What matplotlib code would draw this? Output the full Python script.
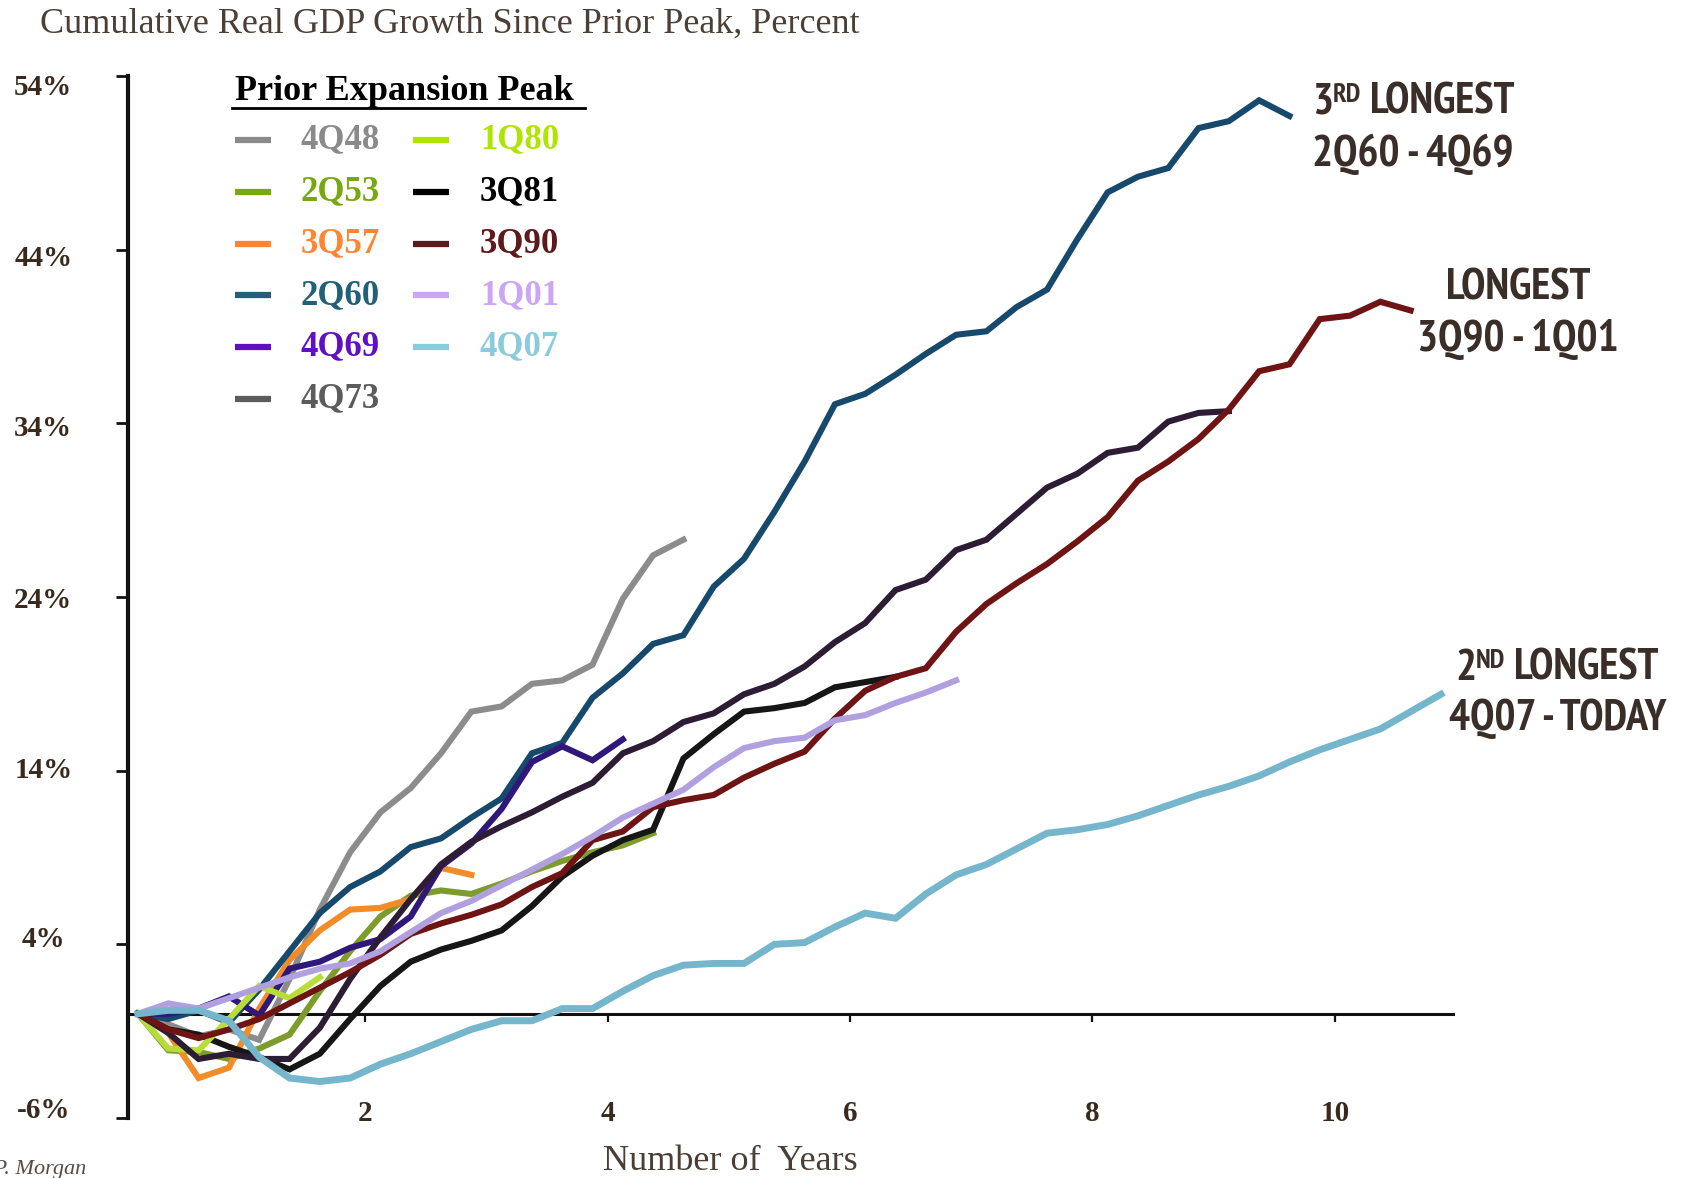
import matplotlib
matplotlib.use('agg')

import os
import numpy as np
import matplotlib.pyplot as plt
from matplotlib import font_manager as fm
from matplotlib.transforms import ScaledTranslation

# cumulative real GDP change since each prior expansion peak, percent (one value per quarter)
gdp_4q48 = [0, -0.6, -1.3, -0.9, -1.5, 2.0, 6.0, 9.3, 11.6, 13.0, 15.0, 17.4, 17.7, 19.0,
            19.2, 20.1, 23.9, 26.4, 27.3]
gdp_2q53 = [0, -2.1, -2.2, -2.6, -2.0, -1.2, 1.3, 3.6, 5.6, 6.8, 7.1, 6.9, 7.5, 8.2, 8.8,
            9.3, 9.7, 10.4]
gdp_3q57 = [0, -1.1, -3.7, -3.1, 0.3, 3.1, 4.8, 6.0, 6.1, 6.6, 8.4, 8.0]
gdp_2q60 = [0, -0.3, 0.2, -0.5, 1.4, 3.6, 5.8, 7.3, 8.2, 9.6, 10.1, 11.3, 12.4, 15.0, 15.6,
            18.2, 19.6, 21.3, 21.8, 24.6, 26.2, 28.9, 31.8, 35.1, 35.7, 36.8, 38.0, 39.1,
            39.3, 40.7, 41.7, 44.6, 47.3, 48.2, 48.7, 51.0, 51.4, 52.6, 51.7]
gdp_4q69 = [0, 0.0, 0.3, 1.0, -0.1, 2.6, 3.0, 3.8, 4.3, 5.6, 8.5, 9.8, 11.8, 14.5, 15.4,
            14.6, 15.8]
gdp_4q73 = [0, -0.9, -1.2, -1.9, -2.5, -3.2, -2.3, -0.3, 1.6, 3.0, 3.7, 4.2, 4.8, 6.2, 7.9,
            9.1, 10.0, 10.6, 14.7, 16.1, 17.4, 17.6, 17.9, 18.8, 19.1, 19.4]
gdp_1q80 = [0, -2.0, -2.1, -0.3, 1.6, 0.9, 2.1]
gdp_3q81 = [0, -1.1, -2.6, -2.3, -2.6, -2.6, -0.8, 2.0, 4.4, 6.6, 8.6, 9.9, 10.8, 11.6, 12.5,
            13.3, 15.0, 15.7, 16.8, 17.3, 18.4, 19.0, 20.0, 21.4, 22.5, 24.4, 25.0, 26.7,
            27.3, 28.8, 30.3, 31.1, 32.3, 32.6, 34.1, 34.6, 34.7]
gdp_3q90 = [0, -0.9, -1.4, -0.9, -0.3, 0.6, 1.5, 2.4, 3.4, 4.6, 5.2, 5.7, 6.3, 7.3, 8.1,
            10.0, 10.5, 11.9, 12.3, 12.6, 13.6, 14.4, 15.1, 17.0, 18.6, 19.4, 19.9, 22.0,
            23.6, 24.8, 25.9, 27.2, 28.6, 30.7, 31.8, 33.1, 34.8, 37.0, 37.4, 40.0, 40.2,
            41.0, 40.5]
gdp_1q01 = [0, 0.6, 0.3, 0.9, 1.5, 2.1, 2.6, 2.9, 3.6, 4.7, 5.8, 6.5, 7.4, 8.3, 9.2, 10.2,
            11.3, 12.1, 12.9, 14.2, 15.3, 15.7, 15.9, 16.9, 17.2, 17.9, 18.5, 19.2]
gdp_4q07 = [0, 0.2, 0.2, -0.4, -2.5, -3.7, -3.9, -3.7, -2.9, -2.3, -1.6, -0.9, -0.4, -0.4,
            0.3, 0.3, 1.3, 2.2, 2.8, 2.9, 2.9, 4.0, 4.1, 5.0, 5.8, 5.5, 6.9, 8.0, 8.6, 9.5,
            10.4, 10.6, 10.9, 11.4, 12.0, 12.6, 13.1, 13.7, 14.5, 15.2, 15.8, 16.4, 17.4, 18.4]

peaks = ['4Q48', '2Q53', '3Q57', '2Q60', '4Q69', '4Q73', '1Q80', '3Q81', '3Q90', '1Q01', '4Q07']
series = [gdp_4q48, gdp_2q53, gdp_3q57, gdp_2q60, gdp_4q69, gdp_4q73, gdp_1q80, gdp_3q81,
          gdp_3q90, gdp_1q01, gdp_4q07]
line_colors = ['#8c8c8c', '#7d9c2c', '#f28c28', '#17496c', '#30187a', '#161616', '#b8dc3a',
               '#2c1c34', '#6e1414', '#b0a0e0', '#76b6cc']
key_colors = ['#8a8a8a', '#78a810', '#ff8533', '#216078', '#6010c4', '#5c5c5c', '#aee600',
              '#000000', '#5e1a1a', '#cba6f7', '#8ccbdc']

y_ticks = [-6, 4, 14, 24, 34, 44, 54]
y_labels = ['-6%', '4%', '14%', '24%', '34%', '44%', '54%']
x_ticks = [1.875, 3.875, 5.875, 7.875, 9.875]
x_labels = ['2', '4', '6', '8', '10']

SERIF = ['Liberation Serif', 'DejaVu Serif']


def narrow_bold():
    """Bold condensed sans for the callouts, whatever the system has."""
    best, best_score = None, -1
    for f in fm.fontManager.ttflist:
        key = (f.name + ' ' + os.path.basename(f.fname)).lower()
        w = f.weight if isinstance(f.weight, int) else {'bold': 700}.get(f.weight, 400)
        if w < 600 or 'italic' in key or 'oblique' in key or 'mono' in key:
            continue
        score = 0
        if 'narrow' in key:
            score = 5
        elif 'condensed' in key and 'extra' not in key and 'semi' not in key:
            score = 4
        elif 'semicondensed' in key or 'semi-condensed' in key or 'semi condensed' in key:
            score = 3
        elif 'extracondensed' in key or 'extra condensed' in key:
            score = 2
        if score > best_score and score > 0:
            best, best_score = f.fname, score
    if best:
        return fm.FontProperties(fname=best)
    return fm.FontProperties(family='Roboto', weight='bold')


BROWN = '#3a2a1e'
W, H = 1687, 1178
fig = plt.figure(figsize=(W / 100, H / 100), dpi=100)


def box(l, t, r, b):
    return [l / W, 1 - b / H, (r - l) / W, (b - t) / H]


ax = fig.add_axes(box(128, 76, 1455, 1118))
ax.set_xlim(-0.0825, 10.866)
ax.set_ylim(-6, 54)

for i, (vals, c) in enumerate(zip(series, line_colors)):
    q = np.arange(len(vals)) / 4.0
    lw = 5.0 if peaks[i] == '4Q07' else 4.4
    ax.plot(q, vals, color=c, lw=lw, solid_joinstyle='miter', zorder=3 + i * 0.1)

ax.axhline(0, color='#111111', lw=2.2, zorder=2)
ax.vlines(x_ticks, -0.5, 0, color='#111111', lw=1.6, zorder=2)

for s in ['top', 'right', 'bottom']:
    ax.spines[s].set_visible(False)
ax.spines['left'].set_linewidth(3)
ax.spines['left'].set_color('#111111')

ax.set_yticks(y_ticks)
ax.set_yticklabels(y_labels, family=SERIF, weight='bold', ha='center')
ax.tick_params(axis='y', direction='out', length=9, width=2, color='#111111',
               labelsize=21, labelcolor=BROWN, pad=52)
# the percent labels sit a little closer together than their ticks
for tick, nudge in zip(ax.yaxis.get_major_ticks(), [0.11, 0.075, 0.032, 0, -0.022, -0.054, -0.086]):
    tick.label1.set_transform(tick.label1.get_transform() +
                              ScaledTranslation(0, nudge, fig.dpi_scale_trans))

ax.set_xticks(x_ticks)
ax.set_xticklabels(x_labels, family=SERIF, weight='bold')
ax.tick_params(axis='x', length=0, labelsize=21, labelcolor=BROWN, pad=-13)
ax.set_xlabel('Number of  Years', family=SERIF, fontsize=26, color='#4a3e36', va='center')
ax.xaxis.set_label_coords(0.4537, -0.042)

# overlay in pixel units for the title, key and callouts
ov = fig.add_axes([0, 0, 1, 1], zorder=5)
ov.set_xlim(0, W)
ov.set_ylim(H, 0)
ov.axis('off')

ov.text(40, 24, 'Cumulative Real GDP Growth Since Prior Peak, Percent', family=SERIF,
        fontsize=26, color='#4b3f37', va='center', ha='left')

ov.text(235, 91, 'Prior Expansion Peak', family=SERIF, fontsize=26, weight='bold',
        color='black', va='center', ha='left')
ov.plot([232, 585], [108, 108], color='black', lw=2)

for i, (name, c) in enumerate(zip(peaks, key_colors)):
    col, row = (0, i) if i < 6 else (1, i - 6)
    hx, tx = (235, 301) if col == 0 else (413, 480)
    y = 140 + 51.8 * row
    ov.plot([hx, hx + 36], [y, y], color=c, lw=4.5, solid_capstyle='butt')
    ov.text(tx, y, name, family=SERIF, fontsize=25, weight='bold', color=c,
            va='center', ha='left')

# callouts: size the condensed face so the widest line spans ~218 px
CALL = '#3a2e28'
fp = narrow_bold()
renderer = fig.canvas.get_renderer()
probe = ov.text(0, 0, '4Q07 - TODAY', fontproperties=fp, fontsize=32)
width = probe.get_window_extent(renderer).width
probe.remove()
cs = min(33.0, 32.0 * 218.0 / width)


def callout(x, y, s, ha='left'):
    return ov.text(x, y, s, fontproperties=fp, fontsize=cs, color=CALL, va='center', ha=ha)


def ranked(x, y, num, sup):
    t1 = callout(x, y, num)
    t2 = ov.annotate(sup, xy=(1, 1), xycoords=t1, va='top', ha='left',
                     fontproperties=fp, fontsize=cs * 0.62, color=CALL)
    ov.annotate(' LONGEST', xy=(1, 0), xycoords=(t2, t1), va='bottom', ha='left',
                fontproperties=fp, fontsize=cs, color=CALL)


ranked(1312, 103, '3', 'RD')
callout(1312, 154, '2Q60 - 4Q69')
callout(1518, 289, 'LONGEST', ha='center')
callout(1518, 340, '3Q90 - 1Q01', ha='center')
ranked(1455, 669, '2', 'ND')
callout(1558, 719, '4Q07 - TODAY', ha='center')

ov.text(86, 1160, 'J.P. Morgan', family=SERIF, style='italic', fontsize=16,
        color='#5a4a40', ha='right', va='top')

fig.savefig('out.png', dpi=100)
